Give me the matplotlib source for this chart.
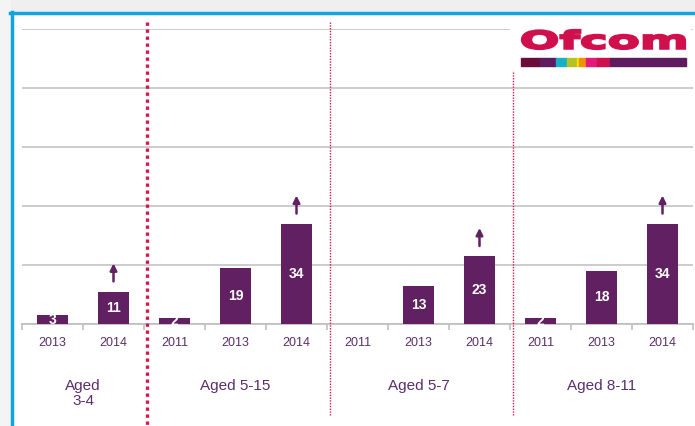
import matplotlib.pyplot as plt
from matplotlib.patches import Rectangle, PathPatch
from matplotlib.textpath import TextPath
from matplotlib.font_manager import FontProperties
from matplotlib.transforms import Affine2D

plt.rcParams['font.family'] = ['Liberation Sans', 'DejaVu Sans']

# Data
years = ["2013", "2014",
         "2011", "2013", "2014",
         "2011", "2013", "2014",
         "2011", "2013", "2014"]
values = [3, 11, 2, 19, 34, 0, 13, 23, 2, 18, 34]
groups = ["Aged\n3-4", "Aged 5-15", "Aged 5-7", "Aged 8-11"]
group_sizes = [2, 3, 3, 3]
arrow_idx = [1, 4, 7, 10]

bar_col = "#612062"
text_col = "#5b2f6a"
red = "#d4174c"

W, H = 695, 426
fig = plt.figure(figsize=(W / 100, H / 100), dpi=100)

def fx(px):
    return px / W

def fy(py):
    return 1 - py / H

# page background and blue frame
fig.patches.append(Rectangle((0, fy(11)), 1, 11 / H, transform=fig.transFigure,
                             color="#efefef", zorder=0))
fig.patches.append(Rectangle((0, 0), fx(10), 1, transform=fig.transFigure,
                             color="#f4f4f4", zorder=0))
fig.add_artist(plt.Line2D([fx(11.5), fx(11.5)], [0, fy(12)], color="#12a3e3",
                          lw=2.5, transform=fig.transFigure))
fig.add_artist(plt.Line2D([fx(10), 1], [fy(12.5), fy(12.5)], color="#12a3e3",
                          lw=2.5, transform=fig.transFigure))

ax = fig.add_axes([fx(22), fy(324), fx(693) - fx(22), (324 - 29) / H])
x = list(range(len(values)))
ax.bar(x, values, width=0.52, color=bar_col, zorder=3)
ax.set_xlim(-0.5, len(values) - 0.5)
ax.set_ylim(0, 100)
ax.set_yticks([0, 20, 40, 60, 80, 100])
ax.yaxis.grid(True, color="#c8c8c8", lw=1.3, zorder=0)
ax.tick_params(axis="y", length=0, labelleft=False)
for s in ["top", "right", "left"]:
    ax.spines[s].set_visible(False)
ax.spines["bottom"].set_color("#c0c0c0")
ax.spines["bottom"].set_linewidth(1.3)

ax.set_xticks([i - 0.5 for i in range(len(values) + 1)])
ax.set_xticklabels([])
ax.tick_params(axis="x", length=4, color="#c0c0c0", width=1.2)
for i, yr in enumerate(years):
    ax.text(i, -6.3, yr, ha="center", va="center", fontsize=9, color=text_col)

# value labels inside bars (the zero label is white on white, so skip it)
for i, v in enumerate(values):
    if v == 0:
        continue
    ax.text(i, max(v, 2) / 2, str(v), ha="center", va="center", fontsize=10,
            color="white", fontweight="bold", zorder=4)

# up arrows
for i in arrow_idx:
    ax.annotate("", xy=(i, values[i] + 10.5), xytext=(i, values[i] + 2.5),
                arrowprops=dict(arrowstyle="-|>", color=bar_col, lw=1.8,
                                mutation_scale=10), zorder=4)

# group labels and separators
start = 0
for k, (g, n) in enumerate(zip(groups, group_sizes)):
    centre = start + (n - 1) / 2
    ax.text(centre, -18.5, g, ha="center", va="top", fontsize=11,
            color=text_col, linespacing=1.1)
    start += n
    if k < len(groups) - 1:
        xs = start - 0.5 + 0.05
        if k == 0:
            ax.plot([xs, xs], [102.5, -35], color=red, lw=2.4, ls=(0, (1, 1.1)),
                    clip_on=False, zorder=5)
        else:
            ax.plot([xs, xs], [102.5, -31], color=red, lw=1.0, ls=(0, (1, 1)),
                    clip_on=False, zorder=5)

# Ofcom logo
fig.patches.append(Rectangle((fx(510), fy(70)), fx(690) - fx(510), 50 / H,
                             transform=fig.transFigure, color="white", zorder=6))
tp = TextPath((0, 0), "Ofcom", prop=FontProperties(family="DejaVu Sans", weight="bold"))
ext = tp.get_extents()
x0, x1, y0, y1 = fx(522), fx(685), fy(49), fy(30)
tr = (Affine2D().translate(-ext.x0, -ext.y0)
      .scale((x1 - x0) / ext.width, (y1 - y0) / ext.height)
      .translate(x0, y0) + fig.transFigure)
fig.patches.append(PathPatch(tp, transform=tr, facecolor="#d0104c",
                             edgecolor="#d0104c", lw=1.6, zorder=7))

stripe = [(521, 540, "#6b0d3a"), (540, 556, "#5e1b5e"), (556, 567, "#17b0c8"),
          (567, 577, "#b4c226"), (577, 579, "#f2e500"), (579, 586, "#f39200"),
          (586, 597, "#e5197b"), (597, 610, "#d0104c"), (610, 686, "#5e1b5e")]
for a, b, c in stripe:
    fig.patches.append(Rectangle((fx(a), fy(66)), fx(b) - fx(a), 8 / H,
                                 transform=fig.transFigure, color=c, zorder=7))

fig.savefig("out.png", dpi=100)
